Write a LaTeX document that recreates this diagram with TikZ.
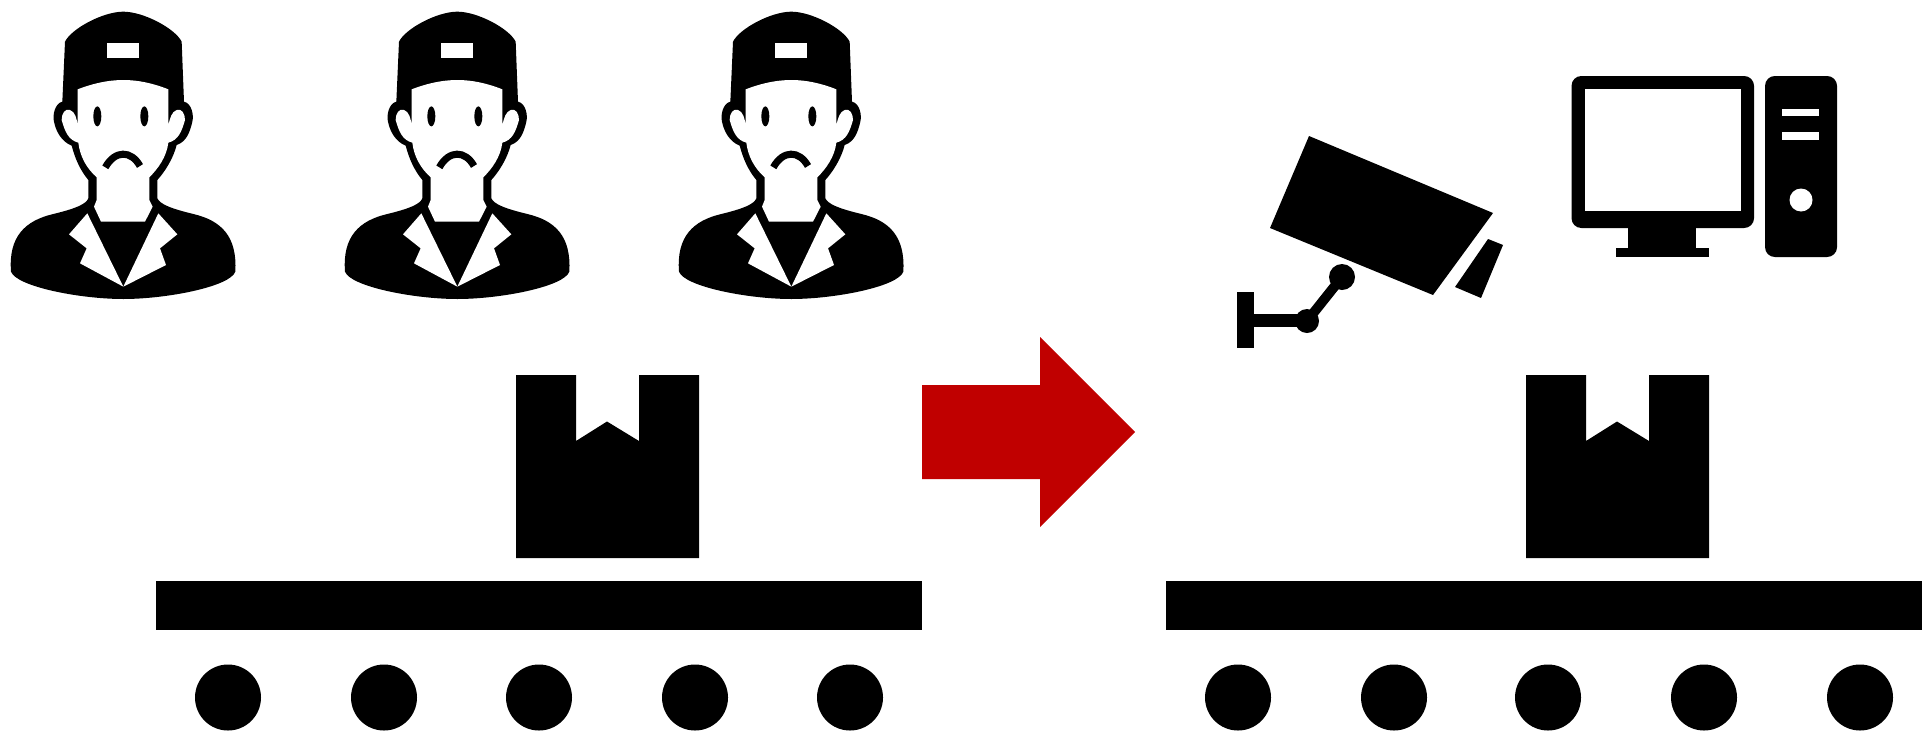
\documentclass[tikz,border=0pt]{standalone}
\usepackage{tikz}
\definecolor{arrowred}{RGB}{192,0,0}

\tikzset{
  solid part/.style={fill=black, draw=none},
  hole part/.style={fill=white, draw=none},
  worker/.pic={
    \begin{scope}[scale=1/3]
      % head, cap and shoulders
      \path[solid part] (195,125) .. controls (215,85) and (310,35) .. (370,35) .. controls (430,35) and (525,85) .. (545,125)
        -- (552,305) .. controls (575,310) and (582,345) .. (577,365) .. controls (570,395) and (560,425) .. (530,435)
        .. controls (520,475) and (495,515) .. (472,540) -- (472,595) .. controls (480,612) and (510,625) .. (580,642)
        .. controls (665,662) and (712,710) .. (706,815) .. controls (690,860) and (500,897) .. (370,897)
        .. controls (240,897) and (50,860) .. (33,815) .. controls (25,710) and (75,662) .. (160,642)
        .. controls (230,625) and (258,612) .. (265,595) -- (265,540) .. controls (240,510) and (225,475) .. (215,437)
        .. controls (185,425) and (168,395) .. (162,365) .. controls (157,345) and (165,310) .. (187,305) -- cycle;
      % face
      \path[hole part] (233,268) .. controls (280,250) and (325,240) .. (370,240) .. controls (415,240) and (460,250) .. (505,268)
        -- (505,375) .. controls (510,355) and (515,335) .. (530,330) .. controls (545,325) and (555,340) .. (555,360)
        .. controls (545,395) and (535,420) .. (505,428) .. controls (500,470) and (475,505) .. (448,532)
        -- (448,600) -- (458,620) -- (435,665) -- (303,665) -- (282,620) -- (290,600) -- (290,532)
        .. controls (260,505) and (240,470) .. (235,428) .. controls (205,420) and (195,395) .. (185,360)
        .. controls (185,340) and (195,325) .. (210,330) .. controls (225,335) and (230,355) .. (233,375) -- cycle;
      % badge and lapels
      \path[hole part] (320,130) rectangle (417,173);
      \path[hole part] (262,640) -- (370,860) -- (240,790) -- (260,745) -- (207,703) -- cycle;
      \path[hole part] (475,640) -- (370,860) -- (498,795) -- (480,745) -- (532,703) -- cycle;
      % eyes and mouth
      \path[solid part] (292,349) ellipse [x radius=12, y radius=30];
      \path[solid part] (433,349) ellipse [x radius=12, y radius=30];
      \draw[line width=2pt] (316,502) .. controls (345,450) and (393,450) .. (420,498);
    \end{scope}
  },
  parcel/.pic={
    \path[solid part] (0,0) -- (60,0) -- (60,66) -- (91,46.5) -- (123,66) -- (123,0) -- (183,0) -- (183,183) -- (0,183) -- cycle;
  }
}

\begin{document}
\begin{tikzpicture}[x=0.01cm, y=-0.01cm]
  \useasboundingbox (0,0) rectangle (1922,730);

  % workers
  \foreach \xpos in {0,334,668} {
    \pic at (\xpos,0) {worker};
  }

  % left line
  \pic at (516,375) {parcel};
  \path[solid part] (156,581) rectangle (922,630);
  \foreach \xpos in {228,384,539,695,850} {
    \path[solid part] (\xpos,697.5) circle (33);
  }

  % right line
  \pic at (1526,375) {parcel};
  \path[solid part] (1166,581) rectangle (1922,630);
  \foreach \xpos in {1238,1394,1548,1704,1860} {
    \path[solid part] (\xpos,697.5) circle (33);
  }

  % arrow
  \path[fill=arrowred] (922,385) -- (1040,385) -- (1040,337) -- (1135,432) -- (1040,527) -- (1040,479) -- (922,479) -- cycle;

  % camera
  \path[solid part] (1309,136) -- (1493,213) -- (1433,295) -- (1270,228) -- cycle;
  \path[solid part] (1488,239) -- (1503,245) -- (1481,298) -- (1455,287) -- cycle;
  \path[solid part] (1237,292) rectangle (1254,348);
  \path[solid part] (1254,314) rectangle (1305,327);
  \path[solid part] (1307,321) circle (12);
  \path[solid part] (1342,277) circle (13);
  \draw[line width=2.8pt] (1307,321) -- (1342,277);

  % computer
  \path[solid part, rounded corners=2.8pt] (1571.5,76) rectangle (1754,228);
  \path[hole part] (1585,89) rectangle (1741,211);
  \path[solid part] (1628,228) rectangle (1696,248);
  \path[solid part] (1616,248) rectangle (1709,257);
  \path[solid part, rounded corners=2.8pt] (1765,76) rectangle (1837,257);
  \path[hole part] (1782,109) rectangle (1819,116);
  \path[hole part] (1782,132) rectangle (1819,140);
  \path[hole part] (1801,200) circle (11.5);
\end{tikzpicture}
\end{document}
